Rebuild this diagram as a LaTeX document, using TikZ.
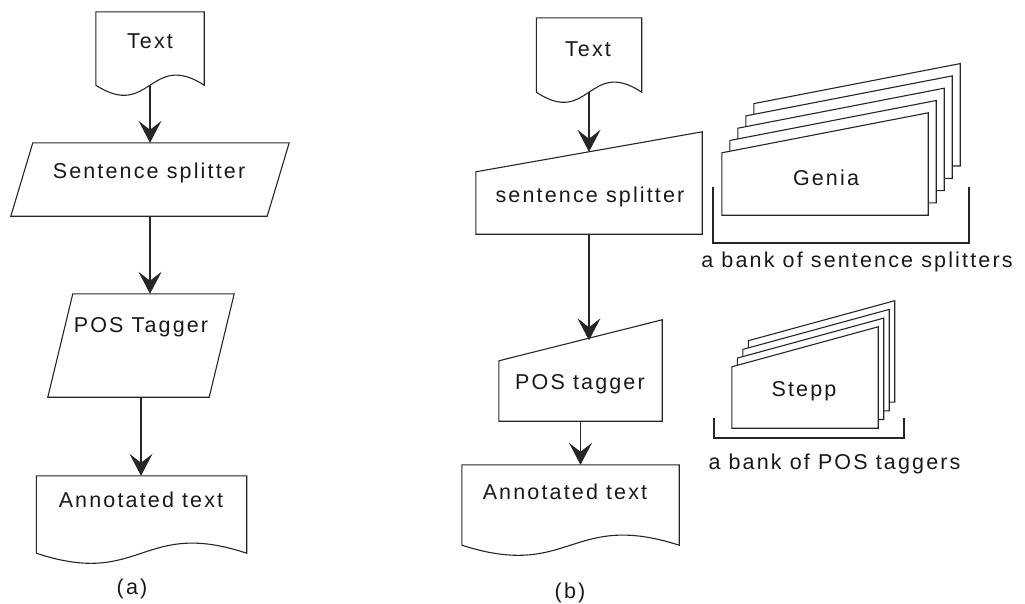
\documentclass[tikz,border=0pt]{standalone}
\usepackage{fontspec}
\newfontfamily\flowfont[LetterSpace=10]{Liberation Sans}
\usetikzlibrary{arrows.meta}

\begin{document}
\begin{tikzpicture}[x=1pt, y=-1pt,
  edge/.style={draw=black!85, line width=1.1pt},
  arr/.style={-{Stealth[length=22pt, width=23pt, inset=9pt]}, draw=black!85, fill=black!85, line width=1.1pt},
  lbl/.style={font=\fontsize{21.5}{25}\flowfont, text=black!90, inner sep=0pt},
  body/.style={rectangle, inner sep=0pt}
]
  \useasboundingbox (0,0) rectangle (1025,603);

  % (a) plain pipeline
  \node[body, minimum width=108pt, minimum height=73pt] (txtA) at (150,48.5) {};
  \node[body, minimum width=278pt, minimum height=73pt] (splitA) at (150,179.5) {};
  \node[body, minimum width=186pt, minimum height=103pt] (posA) at (141,345.5) {};
  \node[body, minimum width=210pt, minimum height=77pt] (annA) at (141.5,514.5) {};

  % (b) pipeline with banks of components
  \node[body, minimum width=105pt, minimum height=74pt] (txtB) at (589,55) {};
  \node[body, minimum width=226pt, minimum height=82pt] (splitB) at (589,193) {};
  \node[body, minimum width=163pt, minimum height=80.5pt] (posB) at (580.5,380.75) {};
  \node[body, minimum width=217pt, minimum height=80pt] (annB) at (570.5,505) {};

  % document outlines with a wavy bottom
  \foreach \d in {txtA,annA,txtB,annB}
    \draw[edge] (\d.south west) |- (\d.north east) -- (\d.south east)
      .. controls ([yshift=35pt]\d.south) and ([yshift=-35pt]\d.south) .. (\d.south west) -- cycle;

  % parallelograms
  \foreach \p/\s in {splitA/22pt, posA/25pt}
    \draw[edge] ([xshift=\s]\p.north west) -- (\p.north east) -- ([xshift=-\s]\p.south east) -- (\p.south west) -- cycle;

  % manual input outlines (slanted top)
  \foreach \m/\r in {splitB/20pt, posB/20.5pt}
    \draw[edge] ([yshift=-\r]\m.north west) -- ([yshift=\r]\m.north east) |- (\m.south west) -- cycle;

  % stacked cards
  \foreach \i in {4,...,0}{
    \node[body, minimum width=206pt, minimum height=82pt] (genia\i) at (825+8*\i,174-12.3*\i) {};
    \draw[edge, fill=white] ([yshift=-20pt]genia\i.north west) -- ([yshift=20pt]genia\i.north east) |- (genia\i.south west) -- cycle;}
  \foreach \i in {3,...,0}{
    \node[body, minimum width=146pt, minimum height=81pt] (stepp\i) at (805+5.5*\i,387.5-8.7*\i) {};
    \draw[edge, fill=white] ([yshift=-20pt]stepp\i.north west) -- ([yshift=20pt]stepp\i.north east) |- (stepp\i.south west) -- cycle;}

  % brackets under the banks
  \draw[edge] (713,187) |- (969,243) -- (969,187);
  \draw[edge] (714,418) |- (904,438) -- (904,418);

  % arrows
  \draw[arr] (txtA.south) -- (txtA.south |- splitA.north);
  \draw[arr] (splitA.south) -- (splitA.south |- posA.north);
  \draw[arr] (posA.south) -- (posA.south |- annA.north);
  \draw[arr] (txtB.south) -- (txtB.south |- splitB.north);
  \draw[arr] (splitB.south) -- (splitB.south |- posB.north);
  \draw[arr] (posB.south) -- (posB.south |- annB.north);

  % labels
  \node[lbl] (txtA-t) at (150,41) {Text};
  \node[lbl] (splitA-t) at (149,173) {Sentence splitter};
  \node[lbl] (posA-t) at (141,327) {POS Tagger};
  \node[lbl] (annA-t) at (141,500) {Annotated text};
  \node[lbl] (capA) at (132,589) {(a)};
  \node[lbl] (txtB-t) at (588,49) {Text};
  \node[lbl] (splitB-t) at (590,197) {sentence splitter};
  \node[lbl] (posB-t) at (580,384) {POS tagger};
  \node[lbl] (annB-t) at (565,492) {Annotated text};
  \node[lbl] (capB) at (570,593) {(b)};
  \node[lbl] (genia) at (826,177.5) {Genia};
  \node[lbl] (stepp) at (804,391.5) {Stepp};
  \node[lbl] (bank1) at (857,262) {a bank of sentence splitters};
  \node[lbl] (bank2) at (834.5,464) {a bank of POS taggers};
\end{tikzpicture}
\end{document}
